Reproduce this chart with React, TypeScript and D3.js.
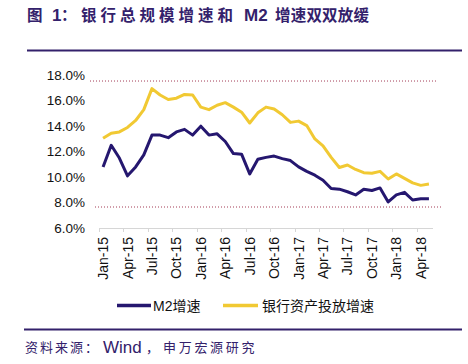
import React from "react";
import * as d3 from "d3";

// monthly, Jan-15 .. May-18
const months: Date[] = d3.timeMonth.range(new Date(2015, 0, 1), new Date(2018, 5, 1));

const m2Growth = [
  10.8, 12.5, 11.5, 10.1, 10.8, 11.75, 13.3, 13.3, 13.1, 13.55, 13.75, 13.3,
  14.0, 13.3, 13.4, 12.8, 11.85, 11.8, 10.25, 11.4, 11.55, 11.65, 11.45, 11.3,
  10.8, 10.45, 10.15, 9.75, 9.1, 9.05, 8.85, 8.6, 9.05, 8.95, 9.15, 8.05,
  8.6, 8.8, 8.2, 8.3, 8.3,
];

const bankAssetGrowth = [
  13.05, 13.45, 13.55, 13.9, 14.45, 15.3, 16.95, 16.45, 16.1, 16.2, 16.5, 16.45,
  15.5, 15.3, 15.65, 15.85, 15.5, 15.1, 14.25, 15.05, 15.5, 15.35, 14.9, 14.3,
  14.4, 14.05, 13.0, 12.45, 11.55, 10.75, 10.95, 10.6, 10.35, 10.3, 10.45, 9.85,
  10.25, 9.9, 9.55, 9.35, 9.45,
];

const yTicks = [6, 8, 10, 12, 14, 16, 18];
const refLines = [17.55, 7.65];
const seriesNames = ["M2增速", "银行资产投放增速"];

const fmtMonth = d3.timeFormat("%b-%y");

const BLUE = "#25176f";
const YELLOW = "#f1c933";
const PURPLE = "#33216b";

export default function App() {
  const width = 468;
  const height = 364;

  const x = d3
    .scaleBand<number>()
    .domain(months.map((_, i) => i))
    .range([99, 433])
    .padding(0);
  const y = d3.scaleLinear().domain([6, 18]).range([228, 75.3]);
  const cx = (i: number) => (x(i) as number) + x.bandwidth() / 2;

  const line = d3
    .line<number>()
    .x((_, i) => cx(i))
    .y((d) => y(d))
    .curve(d3.curveLinear);

  const sans = "'Liberation Sans', Arial, 'Noto Sans CJK SC', sans-serif";
  const cjk = "'Noto Sans CJK SC', sans-serif";

  return (
    <svg
      width={width}
      height={height}
      style={{ position: "absolute", left: 0, top: 0, background: "#fff" }}
    >
      {/* title */}
      <g fill={PURPLE} fontFamily={cjk} fontWeight="bold" fontSize={15.5}>
        <text x={27} y={21}>图</text>
        <text x={52} y={21} fontFamily={sans} fontSize={17}>1</text>
        <text x={61} y={21}>：</text>
        <text x={81} y={21} letterSpacing={4}>银行总规模增速和</text>
        <text x={244} y={21} fontFamily={sans} fontSize={17}>M2</text>
        <text x={275} y={21} letterSpacing={0.2}>增速双双放缓</text>
      </g>
      <line x1={27} x2={462} y1={50.5} y2={50.5} stroke={PURPLE} strokeWidth={2} />

      {/* reference dotted lines */}
      {refLines.map((v, i) => (
        <line
          key={i}
          x1={i === 0 ? 90 : 95}
          x2={i === 0 ? 437 : 441}
          y1={y(v)}
          y2={y(v)}
          stroke="#a33a55"
          strokeWidth={1}
          strokeDasharray="1 2"
        />
      ))}

      {/* y axis labels */}
      {yTicks.map((t) => (
        <text
          key={t}
          x={85}
          y={y(t)}
          dy="0.35em"
          textAnchor="end"
          fontFamily={sans}
          fontSize={13.5}
          fill="#111"
        >
          {t.toFixed(1)}%
        </text>
      ))}

      {/* x axis */}
      <line x1={99} x2={433} y1={228.5} y2={228.5} stroke="#d6d6d6" strokeWidth={1} />
      {months.map((_, i) =>
        i % 3 === 0 ? (
          <line
            key={"t" + i}
            x1={Math.round(x(i) as number) + 0.5}
            x2={Math.round(x(i) as number) + 0.5}
            y1={228}
            y2={232}
            stroke="#d6d6d6"
          />
        ) : null
      )}
      {months.map((m, i) =>
        i % 3 === 0 ? (
          <text
            key={"l" + i}
            transform={`translate(${cx(i) + 5},237) rotate(-90)`}
            textAnchor="end"
            fontFamily={sans}
            fontSize={14}
            fill="#111"
          >
            {fmtMonth(m)}
          </text>
        ) : null
      )}

      {/* series */}
      <path d={line(bankAssetGrowth) || ""} fill="none" stroke={YELLOW} strokeWidth={3} strokeLinejoin="round" />
      <path d={line(m2Growth) || ""} fill="none" stroke={BLUE} strokeWidth={3} strokeLinejoin="round" />

      {/* legend */}
      <line x1={117} x2={151} y1={305.5} y2={305.5} stroke={BLUE} strokeWidth={3.5} />
      <text x={153} y={306} dy="0.35em" fontFamily={sans} fontSize={14} fill="#111">
        {seriesNames[0]}
      </text>
      <line x1={223} x2={258} y1={305.5} y2={305.5} stroke={YELLOW} strokeWidth={3.5} />
      <text x={262} y={306} dy="0.35em" fontFamily={sans} fontSize={14} fill="#111">
        {seriesNames[1]}
      </text>

      {/* source */}
      <line x1={24} x2={462} y1={329.5} y2={329.5} stroke={PURPLE} strokeWidth={2} />
      <g fill={PURPLE} fontFamily={cjk} fontSize={13}>
        <text x={25} y={352} letterSpacing={2}>资料来源：</text>
        <text x={103} y={353} fontFamily={sans} fontSize={17}>Wind</text>
        <text x={146} y={352}>，</text>
        <text x={163} y={352} letterSpacing={2.7}>申万宏源研究</text>
      </g>
    </svg>
  );
}
